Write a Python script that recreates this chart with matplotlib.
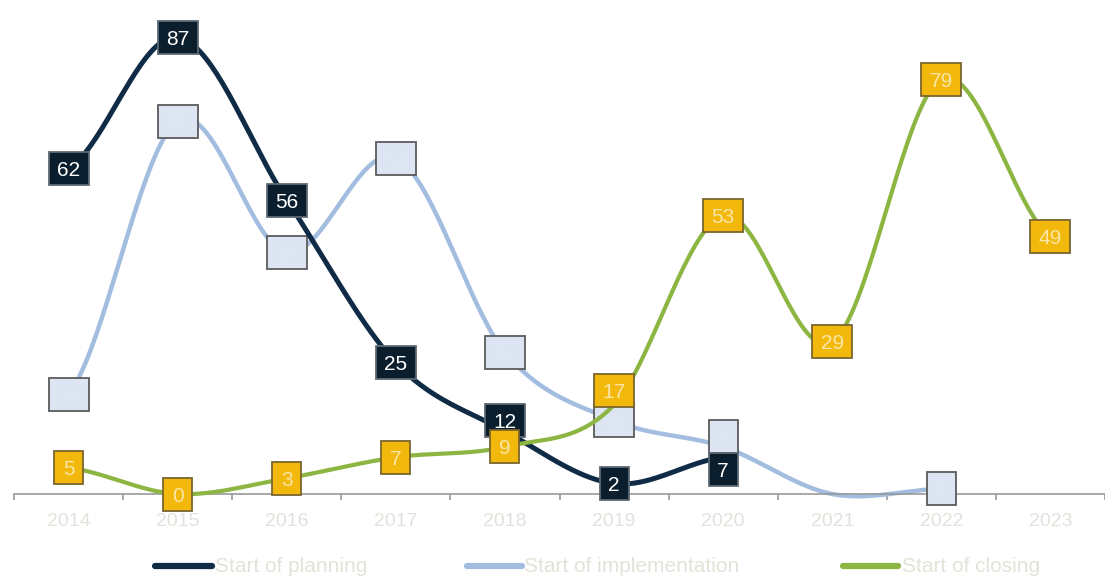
import numpy as np
import matplotlib
matplotlib.use('Agg')
import matplotlib.pyplot as plt
import matplotlib.transforms as mtransforms
from matplotlib.patches import Rectangle
from matplotlib.lines import Line2D

years = ['2014', '2015', '2016', '2017', '2018', '2019', '2020', '2021', '2022', '2023']
planning = [62, 87, 56, 25, 12, 2, 7]
implementation = [19, 71, 46, 64, 27, 14, 9, 0, 1]
closing = [5, 0, 3, 7, 9, 17, 53, 29, 79, 49]

# label nudges (pixels) where boxes would overlap
planning_shift = {4: 11, 6: -12}
impl_shift = {6: 10}
closing_shift = {5: 14}
impl_no_label = [7]

plt.rcParams['font.family'] = ['Liberation Sans', 'DejaVu Sans']

fig = plt.figure(figsize=(11.05, 5.77), dpi=100)
ax = fig.add_axes([14 / 1105, 83 / 577, 1091 / 1105, 494 / 577])
ax.set_xlim(-0.5, 9.391)
ax.set_ylim(0, 94.1)


def smooth(vals, n=40):
    # bezier smoothing like spreadsheet "smoothed line"
    p = np.array(vals, dtype=float)
    xs, ys = [], []
    for i in range(len(p) - 1):
        prev = p[i - 1] if i > 0 else p[i]
        nxt = p[i + 2] if i + 2 < len(p) else p[i + 1]
        x0, x3 = i, i + 1
        x1, x2 = i + 1 / 3, i + 2 / 3
        y0, y3 = p[i], p[i + 1]
        y1 = y0 + (p[i + 1] - prev) / 6
        y2 = y3 - (nxt - p[i]) / 6
        t = np.linspace(0, 1, n)
        xs.append((1 - t) ** 3 * x0 + 3 * (1 - t) ** 2 * t * x1 + 3 * (1 - t) * t ** 2 * x2 + t ** 3 * x3)
        ys.append((1 - t) ** 3 * y0 + 3 * (1 - t) ** 2 * t * y1 + 3 * (1 - t) * t ** 2 * y2 + t ** 3 * y3)
    return np.concatenate(xs), np.concatenate(ys)


def box(x, y, text, fc, ec, tc, dy, z):
    w = 29 if len(text) == 1 else 40
    h = 33
    tr = fig.dpi_scale_trans + mtransforms.ScaledTranslation(x, y, ax.transData)
    ax.add_patch(Rectangle((-w / 200, (dy - h / 2) / 100), w / 100, h / 100, transform=tr,
                           fc=fc, ec=ec, lw=1.3, zorder=z, clip_on=False))
    ax.text(0, (dy - 7.5) / 100, text, transform=tr, ha='center', va='baseline',
            color=tc, fontsize=15, zorder=z + 0.1, clip_on=False)


sx, sy = smooth(implementation)
ax.plot(sx, sy, color='#a3bde0', lw=3.2, zorder=2, clip_on=False, solid_capstyle='round')
for i, v in enumerate(implementation):
    if i in impl_no_label:
        continue
    box(i, v, str(v), '#dce5f1', '#5b5b5b', '#dfe7f2', impl_shift.get(i, 0), 3)

sx, sy = smooth(planning)
ax.plot(sx, sy, color='#0f2b46', lw=3.6, zorder=4, clip_on=False, solid_capstyle='round')
for i, v in enumerate(planning):
    box(i, v, str(v), '#0b1e2d', '#5e6a74', 'white', planning_shift.get(i, 0), 5)

sx, sy = smooth(closing)
ax.plot(sx, sy, color='#8db542', lw=3.0, zorder=6, clip_on=False, solid_capstyle='round')
for i, v in enumerate(closing):
    box(i, v, str(v), '#f2b80c', '#7a6530', '#f9e6a8', closing_shift.get(i, 0), 7)

for s in ['top', 'right', 'left']:
    ax.spines[s].set_visible(False)
ax.spines['bottom'].set_color('#999999')
ax.spines['bottom'].set_linewidth(1.2)
ax.set_yticks([])
ax.set_xticks(range(len(years)))
ax.set_xticklabels(years, color='#e2e2dc', fontsize=14)
ax.tick_params(axis='x', which='major', length=0, pad=14)
ax.set_xticks(np.arange(-0.5, 10, 1), minor=True)
ax.tick_params(axis='x', which='minor', length=4, color='#999999', width=1.2)

legend_items = [('Start of planning', '#0f2b46', 155, 212, 215),
                ('Start of implementation', '#a3bde0', 467, 522, 524),
                ('Start of closing', '#8db542', 843, 898, 902)]
for name, col, x0, x1, xt in legend_items:
    fig.add_artist(Line2D([x0 / 1105, x1 / 1105], [11 / 577, 11 / 577], color=col, lw=4.5,
                          solid_capstyle='round', transform=fig.transFigure))
    fig.text(xt / 1105, 11 / 577, name, color='#e4e2d8', fontsize=15, va='center', ha='left')

fig.savefig('out.png', dpi=100)
